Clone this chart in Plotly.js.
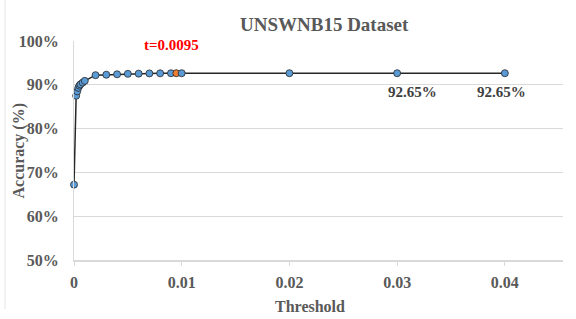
<!DOCTYPE html>
<html>
<head>
<meta charset="utf-8">
<script src="https://cdn.plot.ly/plotly-3.0.1.min.js"></script>
<style>html,body{margin:0;padding:0;background:#fff;}#chart{width:576px;height:319px;}</style>
</head>
<body>
<div id="chart"></div>
<script>
const thresholds = [0, 0.0002, 0.0003, 0.0004, 0.0005, 0.0006, 0.0008, 0.001, 0.002, 0.003, 0.004, 0.005, 0.006, 0.007, 0.008, 0.009, 0.0095, 0.01, 0.02, 0.03, 0.04];
const accuracy = [0.672, 0.875, 0.885, 0.893, 0.898, 0.901, 0.905, 0.909, 0.922, 0.923, 0.924, 0.925, 0.9255, 0.926, 0.9262, 0.9264, 0.9265, 0.9265, 0.9265, 0.9265, 0.9265];
const highlightT = 0.0095;
const yTicks = [0.5, 0.6, 0.7, 0.8, 0.9, 1.0];
const xTicks = [0, 0.01, 0.02, 0.03, 0.04];
const xTickText = ['0', '0.01', '0.02', '0.03', '0.04'];
const labelPoints = [0.03, 0.04];

const serif = 'Liberation Serif, Times New Roman, serif';
const gray = '#595959';
const markerColors = thresholds.map(t => t === highlightT ? '#ED7D31' : '#5B9BD5');

const trace = {
  x: thresholds, y: accuracy, type: 'scatter', mode: 'lines+markers',
  line: {color: '#262626', width: 1.5},
  marker: {size: 7, color: markerColors, line: {color: '#262626', width: 0.8}},
  cliponaxis: false, hoverinfo: 'none'
};

const annotations = [
  {text: '<b>UNSWNB15 Dataset</b>', xref: 'paper', yref: 'paper', x: (324-74)/489, y: 1 + (41-24)/219, xanchor: 'center', yanchor: 'middle', showarrow: false, font: {family: serif, size: 19, color: gray}},
  {text: '<b>t=' + highlightT + '</b>', xref: 'x', yref: 'paper', x: highlightT, xshift: -5, y: 1 - 4/219, xanchor: 'center', yanchor: 'middle', showarrow: false, font: {family: serif, size: 15, color: '#FF0000'}},
  {text: '<b>Threshold</b>', xref: 'paper', yref: 'paper', x: (310-74)/489, y: -(306-260)/219, xanchor: 'center', yanchor: 'middle', showarrow: false, font: {family: serif, size: 16, color: gray}},
  {text: '<b>Accuracy (%)</b>', xref: 'paper', yref: 'paper', x: -(74-18)/489, y: 0.5, xanchor: 'center', yanchor: 'middle', textangle: -90, showarrow: false, font: {family: serif, size: 16, color: gray}}
];
labelPoints.forEach((t, i) => {
  const idx = thresholds.indexOf(t);
  annotations.push({text: '<b>' + (accuracy[idx]*100).toFixed(2) + '%</b>', xref: 'x', yref: 'y', x: t, y: accuracy[idx], xanchor: 'center', yanchor: 'middle', xshift: i === 0 ? 15 : -3, yshift: -19, showarrow: false, font: {family: serif, size: 15, color: '#404040'}});
});

const layout = {
  width: 576, height: 319,
  margin: {l: 74, r: 13, t: 41, b: 59},
  paper_bgcolor: '#fff', plot_bgcolor: '#fff',
  showlegend: false,
  xaxis: {range: [0, 0.0454], tickvals: xTicks, ticktext: xTickText, showgrid: false, zeroline: false,
    showline: true, linecolor: '#d9d9d9', linewidth: 1.5, ticks: 'outside', ticklen: 4, tickcolor: '#d9d9d9',
    tickfont: {family: serif, size: 16, color: gray, weight: 'bold'}, ticklabelstandoff: 3},
  yaxis: {range: [0.5, 1.0], tickvals: yTicks, tickformat: '.0%', showgrid: true, gridcolor: '#d9d9d9', zeroline: false,
    showline: true, linecolor: '#d9d9d9', linewidth: 1, ticks: '',
    tickfont: {family: serif, size: 16, color: gray, weight: 'bold'}, ticklabelstandoff: 11},
  annotations: annotations,
  shapes: [{type: 'line', xref: 'paper', yref: 'paper', x0: -(74-5)/489, x1: -(74-5)/489, y0: 1 + 41/219, y1: -59/219 + 10/219, line: {color: '#e6e6e6', width: 1}}]
};

Plotly.newPlot('chart', [trace], layout, {displayModeBar: false, staticPlot: true});
</script>
</body>
</html>
